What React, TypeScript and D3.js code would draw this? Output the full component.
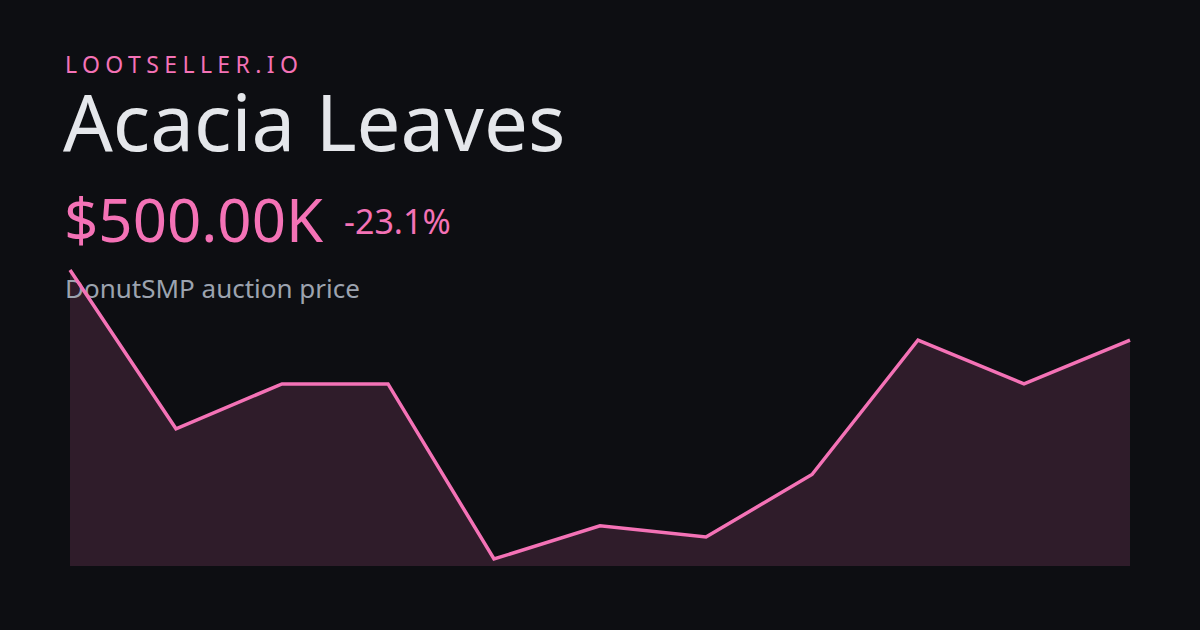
import React from "react";
import * as d3 from "d3";

const brand = "LOOTSELLER.IO";
const title = "Acacia Leaves";
const priceLabel = "$500.00K";
const changeLabel = "-23.1%";
const subtitle = "DonutSMP auction price";
const periods = [0, 1, 2, 3, 4, 5, 6, 7, 8, 9, 10];
const prices = [650, 310, 406, 406, 31, 102, 78, 212, 500, 406, 500];

const W = 1200;
const H = 630;
const PINK = "#f472b6";
const BG = "#0d0e12";

export default function App() {
  const x = d3.scaleLinear().domain([0, periods.length - 1]).range([70, 1130]);
  const y = d3
    .scaleLinear()
    .domain([d3.min(prices) as number, d3.max(prices) as number])
    .range([559, 270]);
  const baseY = 566;
  const pts = periods.map((p, i) => [p, prices[i]] as [number, number]);
  const line = d3
    .line<[number, number]>()
    .x((d) => x(d[0]))
    .y((d) => y(d[1]))(pts) as string;
  const area = d3
    .area<[number, number]>()
    .x((d) => x(d[0]))
    .y0(baseY)
    .y1((d) => y(d[1]))(pts) as string;
  const font = "'Noto Sans', 'Open Sans', sans-serif";
  return (
    <div style={{ position: "fixed", left: 0, top: 0, width: W, height: H }}>
      <svg width={W} height={H} style={{ display: "block" }}>
        <rect width={W} height={H} fill={BG} />
        <path d={area} fill={PINK} fillOpacity={0.15} />
        <text x={65} y={73} fill={PINK} fontFamily={font} fontSize={23} letterSpacing={5.4}>
          {brand}
        </text>
        <text x={63} y={151} fill="#e5e7eb" fontFamily={font} fontSize={78}>
          {title}
        </text>
        <text x={64} y={242} fill={PINK} fontFamily={font} fontSize={60}>
          {priceLabel}
        </text>
        <text x={344} y={234} fill={PINK} fontFamily={font} fontSize={34}>
          {changeLabel}
        </text>
        <text x={65} y={298} fill="#9ca3af" fontFamily={font} fontSize={26}>
          {subtitle}
        </text>
        <path d={line} fill="none" stroke={PINK} strokeWidth={3.5} strokeLinejoin="miter" />
      </svg>
    </div>
  );
}
